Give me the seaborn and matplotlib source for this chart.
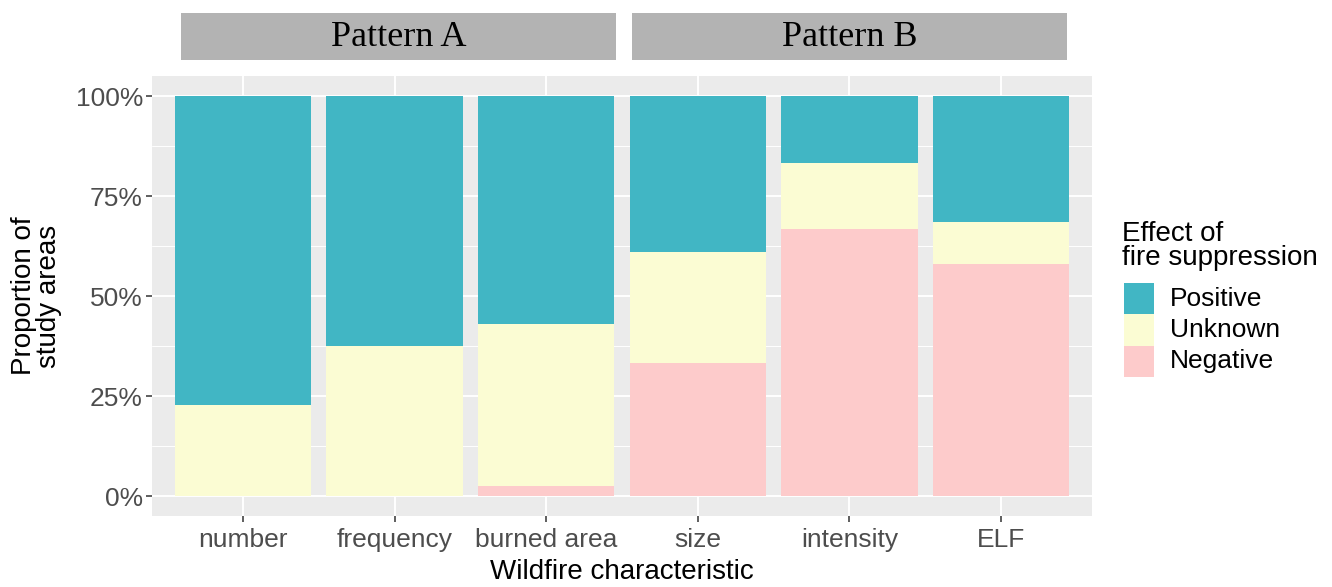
import matplotlib
matplotlib.use("Agg")
import matplotlib.pyplot as plt
from matplotlib.patches import Rectangle
import seaborn as sns
import pandas as pd

# ---- data ----
categories = ["number", "frequency", "burned area", "size", "intensity", "ELF"]
negative = [0.0, 0.0, 2.4, 33.3, 66.7, 57.9]
unknown = [22.7, 37.5, 40.5, 27.8, 16.6, 10.5]
positive = [77.3, 62.5, 57.1, 38.9, 16.7, 31.6]
effect_levels = ["Positive", "Unknown", "Negative"]
pattern_labels = ["Pattern A", "Pattern B"]
y_ticks = [0, 25, 50, 75, 100]
y_ticklabels = ["0%", "25%", "50%", "75%", "100%"]

colors = {"Positive": "#41B6C4", "Unknown": "#FBFCD3", "Negative": "#FDCBCB"}

sns.set_theme(style="darkgrid")
plt.rcParams["font.family"] = ["Liberation Sans", "DejaVu Sans"]

fig = plt.figure(figsize=(13.32, 5.87), dpi=100)
W, H = 1332, 587
ax = fig.add_axes([152 / W, 1 - 516 / H, (1092 - 152) / W, (516 - 76) / H])
ax.set_facecolor("#EBEBEB")

df = pd.DataFrame({"category": categories,
                   "neg": negative, "unk": unknown, "pos": positive})
df["top_unk"] = df["neg"] + df["unk"]
df["top_pos"] = df["top_unk"] + df["pos"]

# stacked bars: draw cumulative heights, top layer first
sns.barplot(data=df, x="category", y="top_pos", color=colors["Positive"],
            width=0.9, saturation=1, ax=ax, order=categories, zorder=2)
sns.barplot(data=df, x="category", y="top_unk", color=colors["Unknown"],
            width=0.9, saturation=1, ax=ax, order=categories, zorder=3)
sns.barplot(data=df, x="category", y="neg", color=colors["Negative"],
            width=0.9, saturation=1, ax=ax, order=categories, zorder=4)
for p in ax.patches:
    p.set_edgecolor("none")
    p.set_linewidth(0)

ax.set_xlim(-0.6, len(categories) - 1 + 0.6)
ax.set_ylim(-5, 105)
ax.set_yticks(y_ticks)
ax.set_yticklabels(y_ticklabels)
ax.set_yticks([12.5, 37.5, 62.5, 87.5], minor=True)
ax.grid(True, which="major", color="white", linewidth=1.4, zorder=0)
ax.grid(True, which="minor", axis="y", color="white", linewidth=0.7, zorder=0)
ax.set_axisbelow(True)
for s in ax.spines.values():
    s.set_visible(False)

ax.tick_params(axis="both", which="major", length=4.5, width=1.1, color="#333333",
               labelcolor="#4D4D4D", labelsize=19, direction="out",
               left=True, bottom=True)
ax.tick_params(axis="y", which="major", pad=2)
ax.tick_params(axis="x", which="major", pad=4)
ax.tick_params(axis="y", which="minor", length=0)

ax.set_xlabel("Wildfire characteristic", fontsize=20, color="black", labelpad=5)
ax.set_ylabel("Proportion of\nstudy areas", fontsize=20, color="black",
              labelpad=10, linespacing=0.95)

# facet-like strips
strip_boxes = [(181, 616), (632, 1067)]
for (x0, x1), lab in zip(strip_boxes, pattern_labels):
    fig.add_artist(Rectangle((x0 / W, 1 - 60 / H), (x1 - x0) / W, 47 / H,
                             transform=fig.transFigure, facecolor="#B3B3B3",
                             edgecolor="none"))
    fig.text((x0 + x1) / 2 / W, 1 - 37 / H, lab, ha="center", va="center",
             fontsize=26, family=["Liberation Serif", "DejaVu Serif"], color="black")

# legend (ggplot-style, contiguous keys)
fig.text(1122 / W, 1 - 234 / H, "Effect of", ha="left", va="center",
         fontsize=20, color="black")
fig.text(1122 / W, 1 - 258 / H, "fire suppression", ha="left", va="center",
         fontsize=20, color="black")
key_top = 283
key_h = 31.3
for i, lev in enumerate(effect_levels):
    y0 = key_top + i * key_h
    fig.add_artist(Rectangle((1124 / W, 1 - (y0 + key_h) / H), 30 / W, key_h / H,
                             transform=fig.transFigure, facecolor=colors[lev],
                             edgecolor="none"))
    fig.text(1170 / W, 1 - (y0 + key_h / 2) / H, lev, ha="left", va="center",
             fontsize=19, color="black")

fig.savefig("out.png", dpi=100, facecolor="white")
